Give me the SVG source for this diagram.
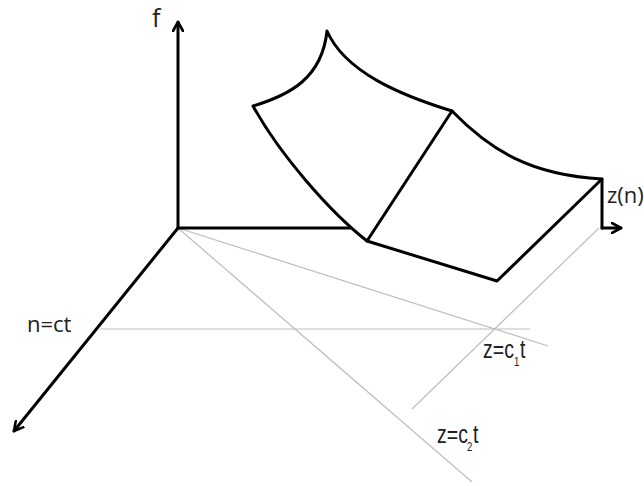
<svg xmlns="http://www.w3.org/2000/svg" width="644" height="486" viewBox="0 0 644 486">
<style>
.bg{fill:#fff}
.ax{stroke:#000;stroke-width:3;fill:none;stroke-linecap:round;stroke-linejoin:round}
.sf{stroke:#000;stroke-width:3;fill:none;stroke-linejoin:round;stroke-linecap:round}
.gl{stroke:#bdbdbd;stroke-width:1.2;fill:none}
.lbl{font-family:"Open Sans","Liberation Sans",sans-serif;fill:#222}
.lb2{font-family:"Liberation Sans","Arial",sans-serif;fill:#222;font-size:25px}
.sub{font-family:"Liberation Sans","Arial",sans-serif;fill:#222;font-size:12px}
</style>
<defs>
<marker id="ah" viewBox="0 0 12 12" refX="10" refY="6" markerWidth="12" markerHeight="12" markerUnits="userSpaceOnUse" orient="auto">
<path d="M1,1 L10,6 L1,11" fill="none" stroke="#000" stroke-width="2.6" stroke-linecap="round" stroke-linejoin="round"/>
</marker>
</defs>
<rect class="bg" x="0" y="0" width="644" height="486"/>
<g id="guides">
<line class="gl" x1="178" y1="228" x2="548" y2="346"/>
<line class="gl" x1="178" y1="228" x2="472" y2="482"/>
<line class="gl" x1="100" y1="329" x2="530" y2="329"/>
<line class="gl" x1="599" y1="228" x2="412" y2="409"/>
</g>
<g id="axes">
<line class="ax" x1="178" y1="228" x2="178" y2="22" marker-end="url(#ah)"/>
<line class="ax" x1="178" y1="228" x2="14" y2="431" marker-end="url(#ah)"/>
<line class="ax" x1="178" y1="228" x2="350" y2="228"/>
</g>
<g id="surface">
<path class="sf" d="M253,106 C290,95 322,78 327,31 C345,72 400,95 452,111 L367,241 C330,212 280,155 253,106 Z"/>
<path class="sf" d="M452,111 C490,150 530,175 602,179 L497,281 L367,241"/>
</g>
<g id="zn">
<line class="ax" x1="602" y1="179" x2="602" y2="228"/>
<line class="ax" x1="602" y1="228" x2="621" y2="228" marker-end="url(#ah)"/>
</g>
<g id="labels">
<text class="lbl" x="152" y="27" font-size="25">f</text>
<text class="lbl" x="607" y="203" font-size="22">z(n)</text>
<text class="lbl" x="27" y="332" font-size="22">n=ct</text>
<g id="lbl-c1">
<text class="lb2" transform="translate(483,358) scale(0.78,1)">z=c</text>
<text class="sub" transform="translate(514,366) scale(0.8,1)">1</text>
<text class="lb2" transform="translate(520,358) scale(0.78,1)">t</text>
</g>
<g id="lbl-c2">
<text class="lb2" transform="translate(437,443) scale(0.78,1)">z=c</text>
<text class="sub" transform="translate(467,451) scale(0.8,1)">2</text>
<text class="lb2" transform="translate(473,443) scale(0.78,1)">t</text>
</g>
</g>
</svg>
